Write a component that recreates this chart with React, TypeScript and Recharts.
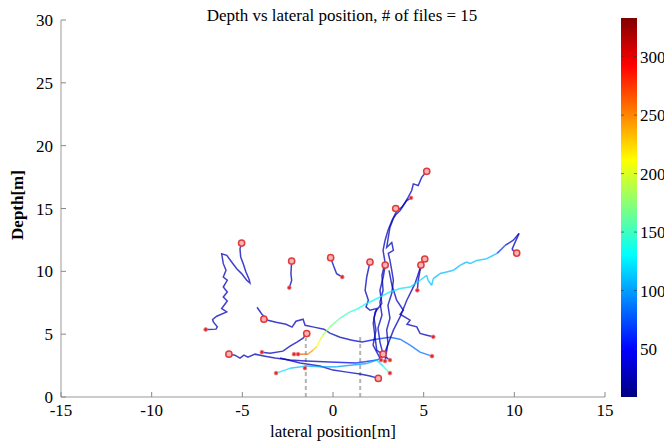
import { ComposedChart, Line, Scatter, XAxis, YAxis, BarChart, Bar } from 'recharts'

// x = lateral position [m], y = depth [m], v = colour value
type Pt = [number, number, number]

const xTicks = [-15, -10, -5, 0, 5, 10, 15]
const yTicks = [0, 5, 10, 15, 20, 25, 30]
const cbTicks = [50, 100, 150, 200, 250, 300]
const cbRange: [number, number] = [9, 333]

const trackA: Pt[] = [
  [-5.04, 12.25, 28], [-5.13, 11.8, 28], [-5.09, 11.13, 28], [-4.95, 10.61, 28], [-4.8, 9.94, 28],
  [-4.62, 9.34, 28], [-4.58, 9.07, 28], [-4.76, 9.29, 28], [-5.04, 9.82, 28], [-5.31, 10.21, 28],
  [-5.59, 10.74, 28], [-5.86, 11.27, 28], [-6.14, 11.4, 28], [-6.05, 10.61, 28], [-5.9, 10.08, 28],
  [-6.05, 9.55, 28], [-5.83, 9.29, 28], [-6.05, 8.75, 28], [-5.83, 8.36, 28], [-6.05, 7.96, 28],
  [-5.83, 7.64, 28], [-6.14, 7.04, 28], [-5.86, 6.77, 28], [-6.41, 6.43, 28], [-6.64, 6.17, 28],
  [-6.6, 5.98, 28], [-6.38, 5.58, 28], [-6.45, 5.4, 28], [-6.88, 5.37, 28], [-7.02, 5.37, 28],
]
const trackB: Pt[] = [[-2.28, 10.82, 28], [-2.32, 9.81, 28], [-2.28, 9.28, 28], [-2.41, 8.7, 28]]
const trackC: Pt[] = [[-0.13, 11.09, 28], [0.02, 10.48, 28], [0.2, 9.81, 28], [0.51, 9.55, 28]]
const trackD: Pt[] = [
  [-4.19, 7.14, 28], [-3.92, 6.59, 28], [-3.59, 6.11, 28], [-3.14, 5.95, 28], [-2.59, 5.79, 28],
  [-2.26, 5.56, 28], [-2.04, 6.03, 28], [-1.65, 6.19, 28], [-1.54, 5.71, 28], [-1.05, 5.56, 28],
  [-0.5, 5.4, 28], [-0.17, 5.08, 28], [0.39, 4.76, 28], [1.05, 4.52, 28], [1.6, 4.37, 40],
  [2.37, 4.6, 60], [3.14, 4.76, 75], [3.7, 4.6, 82], [4.25, 4.13, 85], [4.8, 3.57, 85], [5.46, 3.25, 85],
]
const trackE: Pt[] = [
  [10.13, 11.45, 20], [9.87, 11.75, 20], [10.26, 13.02, 35], [9.93, 12.46, 25], [9.49, 12.06, 30],
  [9.05, 11.43, 105], [8.48, 11.01, 112], [7.93, 10.87, 112], [7.56, 10.61, 108], [7.37, 10.74, 108],
  [7.0, 10.48, 110], [6.64, 10.08, 110], [6.27, 9.94, 108], [5.9, 9.82, 108], [5.53, 9.42, 112],
  [5.44, 8.89, 112], [5.24, 9.29, 115], [5.17, 9.68, 115], [4.8, 9.29, 118], [4.25, 8.75, 120],
  [3.7, 8.63, 122], [3.14, 8.36, 125], [2.59, 7.96, 128], [2.04, 7.56, 130], [1.86, 7.46, 132],
  [1.31, 6.98, 138], [0.94, 6.77, 145], [0.39, 6.27, 158], [-0.17, 5.58, 172], [-0.55, 4.92, 190],
  [-0.72, 4.52, 205], [-0.9, 3.99, 218], [-1.1, 3.73, 235], [-1.38, 3.41, 255], [-1.65, 3.41, 265],
  [-1.93, 3.41, 270],
]
const trackF: Pt[] = [
  [-1.45, 5.05, 28], [-1.65, 4.68, 28], [-1.99, 4.37, 28], [-2.37, 4.05, 28], [-2.76, 3.65, 28],
  [-3.47, 3.49, 28], [-3.92, 3.57, 28],
]
const trackG: Pt[] = [
  [-3.14, 1.9, 125], [-2.37, 2.28, 118], [-1.45, 2.46, 105], [-0.72, 2.4, 100], [0.2, 2.4, 100],
  [1.1, 2.54, 98], [1.86, 2.67, 98], [2.41, 2.94, 110], [2.76, 2.46, 135], [2.96, 2.14, 150],
  [3.14, 1.9, 165],
]
const trackH: Pt[] = [
  [-2.92, 3.1, 28], [-1.82, 2.7, 28], [-0.72, 2.46, 28], [0.0, 2.14, 28], [0.77, 1.98, 28],
  [1.49, 1.83, 28], [2.04, 1.67, 28], [2.5, 1.48, 28],
]
const trackI: Pt[] = [
  [-5.74, 3.41, 28], [-5.41, 3.33, 28], [-5.13, 3.1, 28], [-4.91, 3.33, 28], [-4.69, 3.17, 28],
  [-4.3, 3.41, 28], [-3.75, 3.25, 28], [-3.2, 3.1, 28], [-2.37, 2.94, 28], [-1.49, 2.86, 28],
  [-0.17, 2.78, 35], [1.27, 2.7, 55], [2.43, 2.94, 65], [2.81, 3.25, 65],
]
const trackJ: Pt[] = [
  [5.17, 17.96, 28], [4.89, 17.48, 28], [4.7, 16.83, 28], [4.43, 16.96, 28], [4.34, 16.43, 28],
  [4.15, 15.9, 28], [3.88, 15.24, 28], [3.7, 14.84, 28], [3.47, 14.52, 28], [3.33, 14.21, 28],
  [3.14, 13.49, 28], [3.05, 12.7, 28], [2.96, 11.9, 28], [3.24, 12.3, 28], [3.33, 11.67, 28],
  [3.05, 11.43, 28], [3.14, 10.87, 28], [3.24, 10.08, 28], [3.33, 9.29, 28], [3.24, 8.25, 28],
  [3.03, 7.3, 28], [3.14, 6.27, 28], [2.96, 5.32, 28], [3.03, 4.29, 28], [2.87, 2.86, 28],
]
const trackK: Pt[] = [
  [4.3, 15.85, 28], [4.07, 15.63, 28], [3.79, 15.1, 28], [3.53, 14.84, 28], [3.25, 14.05, 28],
  [3.03, 13.25, 28], [2.87, 12.46, 28], [2.76, 11.67, 28], [2.87, 10.71, 28], [2.7, 9.68, 28],
  [2.76, 8.49, 28], [2.59, 7.54, 28], [2.7, 6.51, 28], [2.48, 5.48, 28], [2.59, 4.37, 28],
  [2.76, 3.41, 28],
]
const trackL: Pt[] = [
  [2.04, 10.74, 28], [1.86, 9.55, 28], [1.77, 8.49, 28], [1.95, 7.7, 28], [1.82, 7.17, 28],
  [2.04, 6.9, 28], [2.41, 7.04, 28], [2.26, 6.27, 28], [2.37, 5.32, 28], [2.21, 4.13, 28],
  [2.65, 2.94, 28],
]
const trackM: Pt[] = [
  [2.88, 10.5, 28], [2.77, 9.55, 28], [2.59, 8.49, 28], [2.69, 7.44, 28], [2.32, 6.75, 28],
  [2.22, 5.87, 28], [2.32, 4.79, 28], [2.41, 3.73, 28], [3.14, 2.94, 28],
]
const trackN: Pt[] = [
  [4.85, 10.5, 28], [4.71, 9.82, 28], [4.52, 9.02, 28], [4.34, 8.49, 28], [4.07, 7.7, 28],
  [3.7, 6.37, 28], [3.33, 5.32, 28], [3.05, 4.26, 28], [2.77, 3.2, 28],
]
const trackO: Pt[] = [[5.06, 10.98, 28], [4.8, 10.08, 28], [4.7, 9.29, 28], [4.65, 8.49, 28]]
const trackP: Pt[] = [
  [3.09, 10.08, 28], [3.25, 8.89, 28], [3.51, 7.7, 28], [3.88, 6.9, 28], [3.7, 6.59, 28],
  [4.25, 6.11, 28], [4.08, 5.79, 28], [4.62, 5.58, 28], [4.8, 5.06, 28], [5.17, 4.92, 28],
  [5.53, 4.79, 28],
]

const tracks = [trackA, trackB, trackC, trackD, trackF, trackH, trackI, trackJ, trackK, trackL, trackM, trackN, trackO, trackP, trackG, trackE]

const startMarks: [number, number][] = [
  [-5.04, 12.25], [-2.28, 10.82], [-0.13, 11.09], [2.04, 10.74], [2.88, 10.5], [5.17, 17.96],
  [3.46, 15.0], [5.06, 10.98], [4.85, 10.5], [10.13, 11.45], [-3.81, 6.19], [-1.45, 5.05],
  [-5.74, 3.41], [2.5, 1.48], [2.76, 3.41],
]
const endMarks: [number, number][] = [
  [-7.02, 5.37], [-2.41, 8.7], [0.51, 9.55], [4.3, 15.85], [4.65, 8.49], [5.53, 4.79],
  [5.46, 3.25], [3.14, 1.9], [-3.14, 1.9], [-1.93, 3.41], [-2.15, 3.41], [-1.55, 2.3],
  [2.65, 2.94], [2.87, 2.86], [3.14, 2.94], [-3.92, 3.57],
]
const guideLeft = [{ x: -1.5, y: 0 }, { x: -1.5, y: 4.7 }]
const guideRight = [{ x: 1.5, y: 0 }, { x: 1.5, y: 4.9 }]
const cbData = [{ k: 'colour', v: cbRange }]

const font = 'Liberation Serif'

function jet(v: number) {
  const t = (v - cbRange[0]) / (cbRange[1] - cbRange[0])
  const c = (d: number) => Math.round(255 * Math.max(0, Math.min(1, 1.5 - Math.abs(4 * t - d))))
  const h = (n: number) => n.toString(16).padStart(2, '0')
  return '#' + h(c(3)) + h(c(2)) + h(c(1))
}

// split a track into runs of one colour
function pieces(track: Pt[]) {
  const out: { color: string; pts: { x: number; y: number }[] }[] = []
  for (let i = 0; i < track.length - 1; i++) {
    const color = jet((track[i][2] + track[i + 1][2]) / 2)
    const next = { x: track[i + 1][0], y: track[i + 1][1] }
    const last = out[out.length - 1]
    if (last && last.color === color) last.pts.push(next)
    else out.push({ color, pts: [{ x: track[i][0], y: track[i][1] }, next] })
  }
  return out
}

function XTick(p: any) {
  return (
    <g>
      <line x1={p.x} x2={p.x} y1={p.y} y2={p.y - 5} stroke="#888" />
      <text x={p.x} y={p.y + 19} textAnchor="middle" fontFamily={font} fontSize={17} fill="#000">
        {p.payload.value}
      </text>
    </g>
  )
}

function YTick(p: any) {
  return (
    <g>
      <line x1={p.x} x2={p.x + 5} y1={p.y} y2={p.y} stroke="#888" />
      <text x={p.x - 8} y={p.y + 6} textAnchor="end" fontFamily={font} fontSize={17} fill="#000">
        {p.payload.value}
      </text>
    </g>
  )
}

function CbTick(p: any) {
  return (
    <g>
      <line x1={p.x - 16} x2={p.x - 13} y1={p.y} y2={p.y} stroke="#333" strokeOpacity={0.6} />
      <line x1={p.x - 3} x2={p.x} y1={p.y} y2={p.y} stroke="#333" strokeOpacity={0.6} />
      <text x={p.x + 3} y={p.y + 6} textAnchor="start" fontFamily={font} fontSize={17} fill="#000">
        {p.payload.value}
      </text>
    </g>
  )
}

const StartShape = (p: any) => (
  <circle cx={p.cx} cy={p.cy} r={3.1} fill="#f8b4b4" stroke="#e23a3a" strokeWidth={1.5} />
)
const EndShape = (p: any) => <circle cx={p.cx} cy={p.cy} r={1.9} fill="#e02828" stroke="#f08080" strokeWidth={0.8} />

export default function App() {
  const runs = tracks.flatMap((t) => pieces(t))
  return (
    <div style={{ position: 'absolute', left: 0, top: 0, width: 664, height: 443, overflow: 'hidden', background: '#fff', fontFamily: font }}>
      <svg width={0} height={0} style={{ position: 'absolute' }}>
        <defs>
          <linearGradient id="jet" x1="0" y1="0" x2="0" y2="1">
            <stop offset="0" stopColor="#800000" />
            <stop offset="0.125" stopColor="#ff0000" />
            <stop offset="0.375" stopColor="#ffff00" />
            <stop offset="0.625" stopColor="#00ffff" />
            <stop offset="0.875" stopColor="#0000ff" />
            <stop offset="1" stopColor="#000080" />
          </linearGradient>
        </defs>
      </svg>

      <div style={{ position: 'absolute', left: 0, top: 0 }}>
        <ComposedChart width={664} height={443} margin={{ top: 20, right: 59, bottom: 16, left: 11 }}>
          <XAxis type="number" dataKey="x" domain={[-15, 15]} ticks={xTicks} interval={0} height={30}
            tickSize={0} tickMargin={0} tickLine={false} axisLine={{ stroke: '#999' }} tick={<XTick />} allowDataOverflow />
          <YAxis type="number" dataKey="y" domain={[0, 30]} ticks={yTicks} interval={0} width={50}
            tickSize={0} tickMargin={0} tickLine={false} axisLine={{ stroke: '#999' }} tick={<YTick />} allowDataOverflow />
          <Line data={guideLeft} dataKey="y" stroke="#b4b4b4" strokeWidth={2} strokeDasharray="4 3" dot={false} activeDot={false} isAnimationActive={false} />
          <Line data={guideRight} dataKey="y" stroke="#b4b4b4" strokeWidth={2} strokeDasharray="4 3" dot={false} activeDot={false} isAnimationActive={false} />
          {runs.map((r, i) => (
            <Line key={i} data={r.pts} dataKey="y" type="linear" stroke={r.color} strokeWidth={1.5} strokeOpacity={0.75}
              dot={false} activeDot={false} isAnimationActive={false} />
          ))}
          <Scatter data={endMarks.map(([x, y]) => ({ x, y }))} shape={EndShape} isAnimationActive={false} />
          <Scatter data={startMarks.map(([x, y]) => ({ x, y }))} shape={StartShape} isAnimationActive={false} />
        </ComposedChart>
      </div>

      <div style={{ position: 'absolute', left: 613, top: 0 }}>
        <BarChart width={70} height={443} data={cbData} margin={{ top: 18, right: 0, bottom: 46, left: 8 }} barCategoryGap={0}>
          <XAxis dataKey="k" hide />
          <YAxis orientation="right" type="number" domain={cbRange} ticks={cbTicks} interval={0} width={46}
            tickSize={0} tickMargin={0} tickLine={false} axisLine={false} tick={<CbTick />} allowDataOverflow />
          <Bar dataKey="v" fill="url(#jet)" isAnimationActive={false} />
        </BarChart>
      </div>

      <div style={{ position: 'absolute', left: 342, top: 6, transform: 'translateX(-50%)', fontSize: 17, lineHeight: '20px', whiteSpace: 'nowrap' }}>
        Depth vs lateral position, # of files = 15
      </div>
      <div style={{ position: 'absolute', left: 333, top: 422, transform: 'translateX(-50%)', fontSize: 17, lineHeight: '20px', whiteSpace: 'nowrap' }}>
        lateral position[m]
      </div>
      <div style={{ position: 'absolute', left: 18, top: 205, transform: 'translate(-50%, -50%) rotate(-90deg)', fontSize: 17, lineHeight: '20px', whiteSpace: 'nowrap', fontWeight: 'bold' }}>
        Depth[m]
      </div>
    </div>
  )
}
